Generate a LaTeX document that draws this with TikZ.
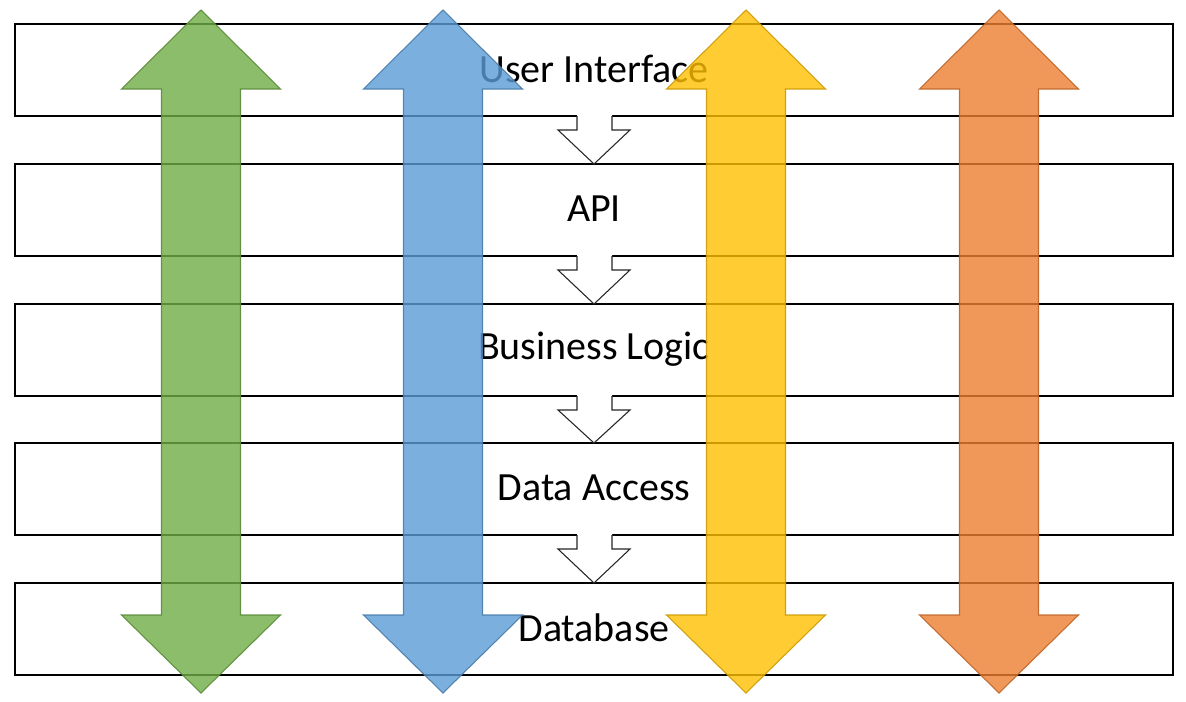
\documentclass[tikz,border=0pt]{standalone}
\usepackage{fontspec}
\setmainfont{Carlito}
\begin{document}
\begin{tikzpicture}[x=0.75pt,y=-0.75pt,
  layer/.style={draw=black,line width=1.1pt},
  lbl/.style={font=\fontsize{30}{36}\selectfont,text=black,inner sep=0pt},
  flowarrow/.style={draw=black!85,line width=0.8pt,line join=miter},
  bigarrow/.style={line width=0.8pt,fill opacity=0.8,draw opacity=0.9,line join=miter}]
\definecolor{cgreen}{HTML}{70AD47}
\definecolor{cblue}{HTML}{5B9BD5}
\definecolor{cyellow}{HTML}{FFC000}
\definecolor{corange}{HTML}{ED7D31}
\useasboundingbox (0,0) rectangle (1186,701);
\fill[white] (0,0) rectangle (1186,701);
% layers
\draw[layer] (15,24) rectangle (1173,116);
\draw[layer] (15,164) rectangle (1173,256);
\draw[layer] (15,304) rectangle (1173,396);
\draw[layer] (15,443) rectangle (1173,535);
\draw[layer] (15,583) rectangle (1173,675);
% labels
\node[lbl] (ui) at (594,69) {User Interface};
\node[lbl] (api) at (594,209) {API};
\node[lbl] (bl) at (594,349) {Business Logic};
\node[lbl] (da) at (594,488) {Data Access};
\node[lbl] (db) at (594,628) {Database};
% small flow arrows
\foreach \b/\t in {116/164,256/304,396/443,535/583}{
  \fill[white] (577,\b-1.5) -- (577,\b+14) -- (558,\b+14) -- (594,\t) -- (630,\b+14) -- (612,\b+14) -- (612,\b-1.5) -- cycle;
  \draw[flowarrow] (577,\b) -- (577,\b+14) -- (558,\b+14) -- (594,\t) -- (630,\b+14) -- (612,\b+14) -- (612,\b);
}
% big double arrows
\foreach \cx/\col in {201/cgreen,443/cblue,746/cyellow,999/corange}{
  \draw[bigarrow,fill=\col,draw=\col!80!black]
    (\cx,10) -- (\cx+79.5,89) -- (\cx+39.5,89) -- (\cx+39.5,615) -- (\cx+79.5,615)
    -- (\cx,693) -- (\cx-79.5,615) -- (\cx-39.5,615) -- (\cx-39.5,89) -- (\cx-79.5,89) -- cycle;
}
\end{tikzpicture}
\end{document}
